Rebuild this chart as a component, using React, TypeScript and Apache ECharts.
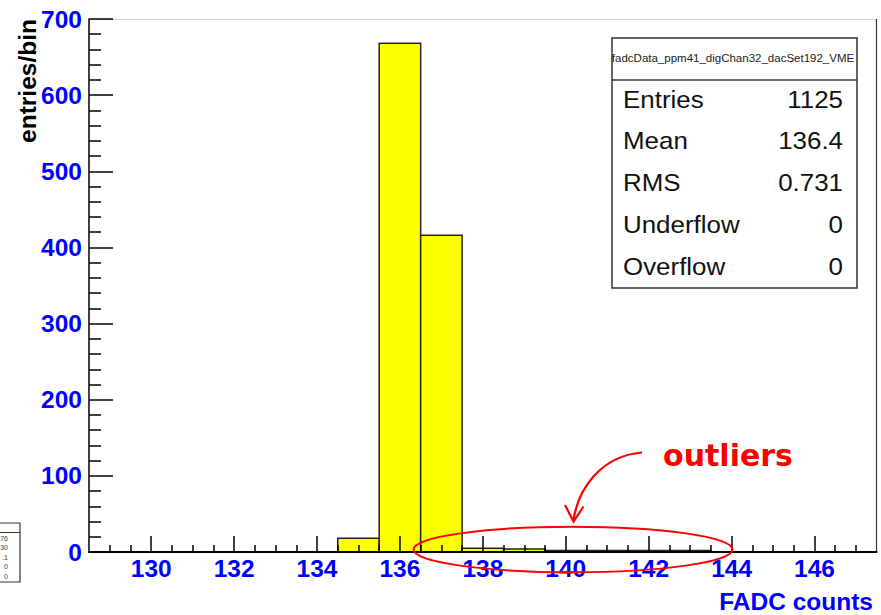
import React, { useEffect, useRef } from "react";
import * as echarts from "echarts";

// ---- data ----
const binCenters = [135, 136, 137, 138, 139, 140, 141, 142, 143];
const binCounts = [18, 668, 416, 5, 4, 2, 2, 2, 2];
const binWidth = 1;
const xRange = [128.5, 147.5];
const xMajorTicks = [130, 132, 134, 136, 138, 140, 142, 144, 146];
const xMinorTicks = [
  129, 129.5, 130.5, 131, 131.5, 132.5, 133, 133.5, 134.5, 135, 135.5, 136.5, 137, 137.5,
  138.5, 139, 139.5, 140.5, 141, 141.5, 142.5, 143, 143.5, 144.5, 145, 145.5, 146.5, 147,
];
const yMax = 700;
const yStep = 100;
const histTitle = "fadcData_ppm41_digChan32_dacSet192_VME";
const statNames = ["Entries", "Mean", "RMS", "Underflow", "Overflow"];
const statValues = ["1125", "136.4", "0.731", "0", "0"];
const miniStatValues = ["76", "30", ".1", "0", "0"];
const xTitle = "FADC counts";
const yTitle = "entries/bin";
const noteText = "outliers";

export default function App() {
  const ref = useRef<HTMLDivElement>(null);

  useEffect(() => {
    if (!ref.current) return;
    const chart = echarts.init(ref.current, null, { renderer: "svg" });
    const font = "Liberation Sans, Arial, sans-serif";
    const blue = "#0000ff";

    const statRows = statNames.flatMap((n, i) => {
      const y = 99 + i * 41.8;
      return [
        {
          type: "text",
          x: 623,
          y,
          scaleX: 1.08,
          style: { text: n, fill: "#111", font: `24px ${font}`, align: "left", verticalAlign: "middle" },
        },
        {
          type: "text",
          x: 843,
          y,
          scaleX: 1.08,
          style: { text: statValues[i], fill: "#111", font: `24px ${font}`, align: "right", verticalAlign: "middle" },
        },
      ];
    });

    const miniRows = miniStatValues.map((v, i) => ({
      type: "text",
      x: 8,
      y: 538 + i * 9.6,
      style: { text: v, fill: "#444", font: `7px ${font}`, align: "right", verticalAlign: "middle" },
    }));

    chart.setOption({
      animation: false,
      backgroundColor: "#ffffff",
      grid: { left: 89, right: 4.3, top: 19, bottom: 63, containLabel: false },
      xAxis: [
        {
          type: "value",
          min: xRange[0],
          max: xRange[1],
          z: 5,
          axisLine: { show: true, onZero: false, lineStyle: { color: "#000", width: 2 } },
          axisTick: {
            show: true,
            inside: true,
            length: 16,
            customValues: xMajorTicks,
            lineStyle: { color: "#000", width: 1.5 },
          },
          axisLabel: {
            show: true,
            customValues: xMajorTicks,
            color: blue,
            fontFamily: font,
            fontWeight: "bold",
            fontSize: 24.5,
            margin: 4,
          },
          splitLine: { show: false },
        },
        {
          type: "value",
          min: xRange[0],
          max: xRange[1],
          position: "bottom",
          z: 5,
          axisLine: { show: false },
          axisTick: {
            show: true,
            inside: true,
            length: 7,
            customValues: xMinorTicks,
            lineStyle: { color: "#000", width: 1.5 },
          },
          axisLabel: { show: false },
          splitLine: { show: false },
        },
      ],
      yAxis: {
        type: "value",
        min: 0,
        max: yMax,
        interval: yStep,
        z: 5,
        axisLine: { show: true, lineStyle: { color: "#000", width: 1.5 } },
        axisTick: { show: true, inside: true, length: 24, lineStyle: { color: "#000", width: 1.5 } },
        minorTick: { show: true, splitNumber: 5, length: 12, lineStyle: { color: "#000", width: 1.5 } },
        axisLabel: {
          color: blue,
          fontFamily: font,
          fontWeight: "bold",
          fontSize: 24.5,
          margin: 7,
        },
        splitLine: { show: false },
      },
      series: [
        {
          type: "custom",
          xAxisIndex: 0,
          yAxisIndex: 0,
          z: 1,
          data: binCenters.map((c, i) => [c, binCounts[i]]),
          encode: { x: 0, y: 1 },
          renderItem: (params: any, api: any) => {
            const c = api.value(0);
            const v = api.value(1);
            const p1 = api.coord([c - binWidth / 2, v]);
            const p2 = api.coord([c + binWidth / 2, 0]);
            return {
              type: "rect",
              shape: { x: p1[0], y: p1[1], width: p2[0] - p1[0], height: p2[1] - p1[1] },
              style: { fill: "#ffff00", stroke: "#222", lineWidth: 1.5 },
            };
          },
        },
      ],
      graphic: [
        // frame top & right
        { type: "line", shape: { x1: 89, y1: 19.5, x2: 877, y2: 19.5 }, style: { stroke: "#d8d8d8", lineWidth: 1 }, z: 4 },
        { type: "line", shape: { x1: 876.5, y1: 19, x2: 876.5, y2: 553 }, style: { stroke: "#333", lineWidth: 1.2 }, z: 4 },
        // axis titles
        {
          type: "text",
          x: 27,
          y: 81,
          rotation: Math.PI / 2,
          style: { text: yTitle, fill: "#000", font: `bold 24.5px ${font}`, align: "center", verticalAlign: "middle" },
          z: 6,
        },
        {
          type: "text",
          x: 873,
          y: 601,
          style: { text: xTitle, fill: blue, font: `bold 24.5px ${font}`, align: "right", verticalAlign: "middle" },
          z: 6,
        },
        // stats box
        {
          type: "rect",
          shape: { x: 612, y: 38, width: 245, height: 250 },
          style: { fill: "#fff", stroke: "#333", lineWidth: 1.5 },
          z: 6,
        },
        { type: "line", shape: { x1: 612, y1: 80, x2: 857, y2: 80 }, style: { stroke: "#333", lineWidth: 1.5 }, z: 7 },
        {
          type: "text",
          x: 733,
          y: 58,
          style: { text: histTitle, fill: "#222", font: `11.5px ${font}`, align: "center", verticalAlign: "middle" },
          z: 7,
        },
        ...statRows.map((r) => ({ ...r, z: 7 })),
        // mini stats box (cropped)
        {
          type: "rect",
          shape: { x: -40, y: 523, width: 60, height: 59 },
          style: { fill: "#fff", stroke: "#333", lineWidth: 1.2 },
          z: 6,
        },
        { type: "line", shape: { x1: -40, y1: 532.5, x2: 20, y2: 532.5 }, style: { stroke: "#333", lineWidth: 1 }, z: 7 },
        ...miniRows.map((r) => ({ ...r, z: 7 })),
        // annotations
        {
          type: "ellipse",
          shape: { cx: 573, cy: 549.5, rx: 159.5, ry: 22.8 },
          style: { fill: "none", stroke: "#ff0000", lineWidth: 2 },
          z: 10,
        },
        {
          type: "bezierCurve",
          shape: { x1: 642, y1: 452.5, x2: 573.5, y2: 520, cpx1: 600, cpy1: 456, cpx2: 578, cpy2: 490 },
          style: { fill: "none", stroke: "#ff0000", lineWidth: 2.2 },
          z: 10,
        },
        {
          type: "polyline",
          shape: { points: [[565, 505], [573.5, 521.5], [583.5, 506.5]] },
          style: { fill: "none", stroke: "#ff0000", lineWidth: 2.2 },
          z: 10,
        },
        {
          type: "text",
          x: 728,
          y: 455,
          style: {
            text: noteText,
            fill: "#ff0000",
            font: `bold 30px "DejaVu Sans", sans-serif`,
            align: "center",
            verticalAlign: "middle",
          },
          z: 10,
        },
      ],
    });

    return () => chart.dispose();
  }, []);

  return (
    <div
      ref={ref}
      style={{ position: "fixed", left: 0, top: 0, width: 881, height: 615, background: "#fff" }}
    />
  );
}
